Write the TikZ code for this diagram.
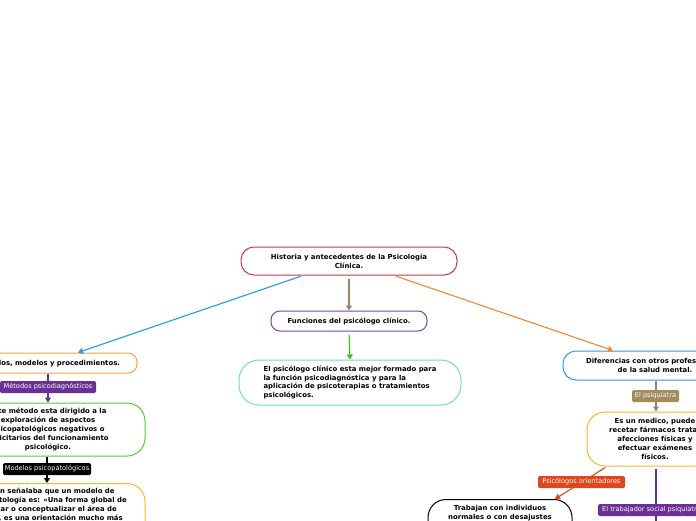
\documentclass[tikz,border=0pt]{standalone}
\usepackage{fontspec}
\setmainfont{DejaVu Sans}
\usetikzlibrary{arrows.meta,calc}
\definecolor{cRoot}{HTML}{C8384F}
\definecolor{cBrown}{HTML}{9A8466}
\definecolor{cPurple}{HTML}{7B44A0}
\definecolor{cGreenA}{HTML}{33CC11}
\definecolor{cCyan}{HTML}{77D6D6}
\definecolor{cBlue}{HTML}{2A9BE0}
\definecolor{cOrangeBox}{HTML}{F5A04A}
\definecolor{cLblPurple}{HTML}{6A3093}
\definecolor{cGreenBox}{HTML}{55CC33}
\definecolor{cYellow}{HTML}{F7B731}
\definecolor{cOrangeA}{HTML}{F58A2A}
\definecolor{cBlueBox}{HTML}{3399DD}
\definecolor{cPsiq}{HTML}{A38B5C}
\definecolor{cRed}{HTML}{E0481C}
\begin{document}
\begin{tikzpicture}[x=1pt,y=-1pt,
  mbox/.style={draw, line width=1pt, fill=white, align=center, inner sep=0pt,
    font=\bfseries\fontsize{6.9}{8.9}\selectfont},
  lbl/.style={rounded corners=1.5pt, text=white, inner sep=0pt, minimum height=12pt,
    font=\fontsize{6.6}{7}\selectfont},
  conn/.style={line width=1.1pt, -{Triangle[width=6pt,length=5pt]}},
  plain/.style={line width=1.1pt}]
\clip (0,0) rectangle (696,520);
\fill[white] (0,0) rectangle (696,520);

% nodes
\node[mbox, draw=cRoot, minimum width=216pt, minimum height=28pt, rounded corners=13pt] (root) at (349,261)
  {Historia y antecedentes de la Psicología\\Clínica.};
\node[mbox, draw=cPurple, minimum width=156pt, minimum height=20pt, rounded corners=9pt] (func) at (349,321)
  {Funciones del psicólogo clínico.};
\node[mbox, draw=cCyan, minimum width=222pt, minimum height=45pt, rounded corners=20pt, align=left] (cyan) at (350,382.5)
  {El psicólogo clínico esta mejor formado para\\la función psicodiagnóstica y para la\\aplicación de psicoterapias o tratamientos\\psicológicos.};
\node[mbox, draw=cOrangeBox, minimum width=178pt, minimum height=20pt, rounded corners=9pt, text width=144pt, align=right] (metod) at (48,363)
  {Métodos, modelos y procedimientos.};
\node[mbox, draw=cGreenBox, minimum width=194pt, minimum height=53pt, rounded corners=18pt] (green) at (48,429.5)
  {Este método esta dirigido a la\\exploración de aspectos\\psicopatológicos negativos o\\deficitarios del funcionamiento\\psicológico.};
\node[mbox, draw=cYellow, minimum width=194pt, minimum height=80pt, rounded corners=18pt, anchor=north] (yel) at (48,483)
  {\rule{0pt}{9pt}Millon señalaba que un modelo de\\psicopatología es: «Una forma global de\\enfocar o conceptualizar el área de\\campo, es una orientación mucho más\\\rule{0pt}{40pt}};
\node[mbox, draw=cBlueBox, minimum width=184pt, minimum height=29pt, rounded corners=13pt] (dif) at (655,365.5)
  {Diferencias con otros profesionales\\de la salud mental.};
\node[mbox, draw=cYellow, minimum width=136pt, minimum height=54pt, rounded corners=18pt] (medico) at (655,439)
  {Es un medico, puede\\recetar fármacos tratar\\afecciones físicas y\\efectuar exámenes\\físicos.};
\node[mbox, draw=black, minimum width=144pt, minimum height=60pt, rounded corners=18pt, anchor=north] (trab) at (500,499)
  {\rule{0pt}{8pt}Trabajan con individuos\\normales o con desajustes\\\rule{0pt}{34pt}};
\coordinate (ts) at (656,540);

% connectors
\draw[conn, cBrown, shorten <=3pt] (root.south) -- (func.north);
\draw[conn, cGreenA, shorten <=3pt] (func.south) -- (cyan.north);
\draw[conn, cBlue, shorten <=2pt] ([xshift=-46pt]root.south) -- ([xshift=30pt]metod.north);
\draw[conn, cOrangeA, shorten <=2pt] ([xshift=45pt]root.south) -- ([xshift=-42pt]dif.north);
\draw[conn, cLblPurple] (metod.south) -- (green.north);
\draw[conn, black] ([xshift=-1pt]green.south) -- ([xshift=-1pt]yel.north);
\draw[conn, cBrown] ([xshift=1pt]dif.south) -- ([xshift=1pt]medico.north);
\draw[conn, cRed, shorten <=2pt] ([xshift=-48pt]medico.south) -- ([xshift=55pt]trab.north);
\draw[plain, cLblPurple, shorten <=2pt] ([xshift=1pt]medico.south) -- (ts);

% labels
\node[lbl, fill=cLblPurple, minimum width=96pt] (l1) at (48,387) {Métodos psicodiagnósticos};
\node[lbl, fill=black, minimum width=88pt] (l2) at (47,469) {Modelos psicopatológicos};
\node[lbl, fill=cPsiq, minimum width=47pt] (l3) at (655.5,396) {El psiquiatra};
\node[lbl, fill=cRed, minimum width=87pt] (l4) at (581.5,482) {Psicólogos orientadores};
\node[lbl, fill=cLblPurple, anchor=west, inner xsep=4pt] (l5) at (598,510) {El trabajador social psiquiatrico};
\end{tikzpicture}
\end{document}
